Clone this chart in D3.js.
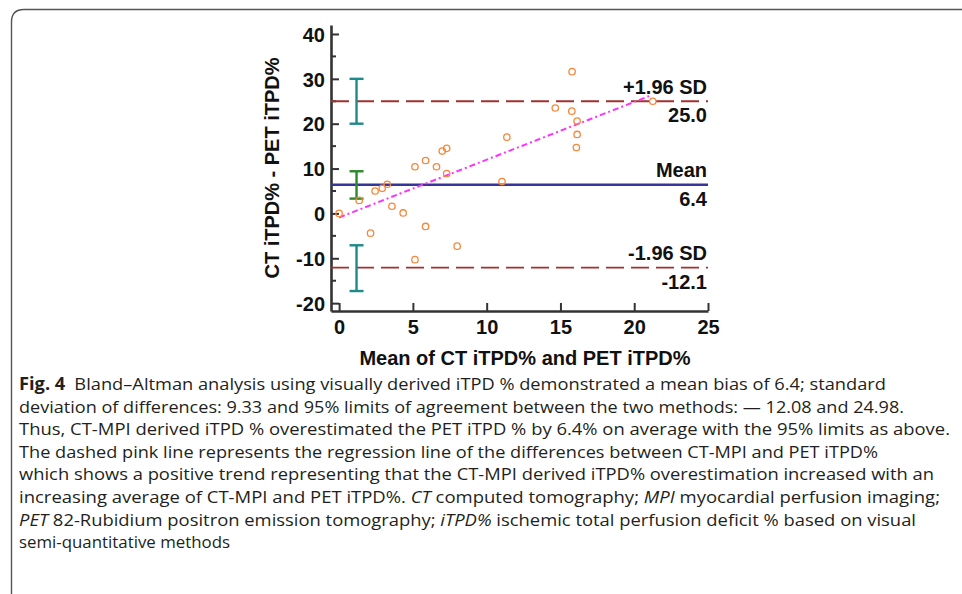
<!DOCTYPE html>
<html>
<head>
<meta charset="utf-8">
<script src="https://cdn.jsdelivr.net/npm/d3@7"></script>
<style>
  body { margin: 0; background: #fff; }
  svg { display: block; }
</style>
</head>
<body>
<svg class="chart"></svg>
<script>
const width = 962;
const height = 594;

// data
const meanVals = [0, 1.36, 2.13, 2.44, 2.92, 3.26, 3.58, 4.34, 5.14, 5.14, 5.86, 5.86, 6.6, 6.99, 7.29, 7.29, 8.0,
  11.04, 11.37, 14.65, 15.79, 15.77, 16.13, 16.13, 16.08, 21.26];
const diffVals = [0, 2.9, -4.4, 5.0, 5.6, 6.5, 1.6, 0.1, 10.4, -10.3, 11.8, -2.9, 10.4, 13.9, 14.5, 8.9, -7.3,
  7.1, 17.0, 23.5, 31.6, 22.8, 20.6, 17.6, 14.7, 25.0];
const limitVals = [25.0, 6.4, -12.1];
const limitNames = ['+1.96 SD', 'Mean', '-1.96 SD'];
const ciLow = [20.0, 3.3, -17.3];
const ciHigh = [30.0, 9.4, -7.1];
const regX = [0, 21.2];
const regY = [-0.9, 26.4];
const xTicks = [0, 5, 10, 15, 20, 25];
const yTicks = [-20, -10, 0, 10, 20, 30, 40];
const yMinorTicks = [-15, -5, 5, 15, 25, 35];

const svg = d3.select('.chart')
    .attr('width', width)
    .attr('height', height);

const boldFont = '"Liberation Sans", Arial, sans-serif';
const boldSize = 20;

// frame round the figure
svg.append('path')
    .attr('d', 'M11.5,594 L11.5,22 Q11.5,9.5 24,9.5 L962,9.5')
    .attr('fill', 'none')
    .attr('stroke', '#555')
    .attr('stroke-width', 1.4);

// scales
const x = d3.scaleLinear().domain([-0.55, 25]).range([331, 708]);
const y = d3.scaleLinear().domain([-21.75, 42]).range([311, 25]);

// axes
const xAxis = d3.axisBottom(x).tickValues(xTicks).tickSize(-8).tickPadding(9).tickSizeOuter(0)
    .tickFormat(d => String(d));
const gx = svg.append('g')
    .attr('transform', `translate(0,${y(-21.75)})`)
    .call(xAxis);

const yAxis = d3.axisLeft(y).tickValues(yTicks).tickSize(-8).tickPadding(6).tickSizeOuter(0)
    .tickFormat(d => String(d));
const gy = svg.append('g')
    .attr('transform', `translate(${x(-0.55)},0)`)
    .call(yAxis);

gy.selectAll('.minor')
    .data(yMinorTicks).enter()
    .append('line')
    .attr('class', 'minor')
    .attr('x1', 0).attr('x2', 5)
    .attr('y1', d => y(d)).attr('y2', d => y(d))
    .attr('stroke', '#333')
    .attr('stroke-width', 2);

[gx, gy].forEach(g => {
    g.select('.domain').attr('stroke', '#333').attr('stroke-width', 2.6);
    g.selectAll('.tick line').attr('stroke', '#333').attr('stroke-width', 2);
    g.selectAll('.tick text')
        .attr('font-family', boldFont)
        .attr('font-weight', 'bold')
        .attr('font-size', boldSize)
        .attr('fill', '#111');
});
gy.selectAll('.tick text').attr('dy', '0.36em');

// axis titles
svg.append('text')
    .attr('x', 525)
    .attr('y', 365)
    .attr('text-anchor', 'middle')
    .attr('font-family', boldFont)
    .attr('font-weight', 'bold')
    .attr('font-size', boldSize)
    .attr('fill', '#111')
    .text('Mean of CT iTPD% and PET iTPD%');

svg.append('text')
    .attr('transform', 'translate(279,168) rotate(-90)')
    .attr('text-anchor', 'middle')
    .attr('font-family', boldFont)
    .attr('font-weight', 'bold')
    .attr('font-size', boldSize)
    .attr('fill', '#111')
    .text('CT iTPD% - PET iTPD%');

// limit lines
const limitColors = ['#a33030', '#35359a', '#a33030'];
limitVals.forEach((v, i) => {
    svg.append('line')
        .attr('x1', x(-0.55)).attr('x2', x(25))
        .attr('y1', y(v)).attr('y2', y(v))
        .attr('stroke', limitColors[i])
        .attr('stroke-width', i === 1 ? 2.6 : 1.8)
        .attr('stroke-dasharray', i === 1 ? null : '18,7');

    svg.append('text')
        .attr('x', 707)
        .attr('y', y(v) - 7.5)
        .attr('text-anchor', 'end')
        .attr('font-family', boldFont)
        .attr('font-weight', 'bold')
        .attr('font-size', boldSize)
        .attr('fill', '#111')
        .text(limitNames[i]);

    svg.append('text')
        .attr('x', 707)
        .attr('y', y(v) + 21)
        .attr('text-anchor', 'end')
        .attr('font-family', boldFont)
        .attr('font-weight', 'bold')
        .attr('font-size', boldSize)
        .attr('fill', '#111')
        .text(v.toFixed(1));
});

// confidence interval bars
const ciColors = ['#1f8a8a', '#2a8a2a', '#1f8a8a'];
const ciX = x(1.18);
ciLow.forEach((lo, i) => {
    const g = svg.append('g')
        .attr('stroke', ciColors[i])
        .attr('stroke-width', 2.4);
    g.append('line').attr('x1', ciX).attr('x2', ciX).attr('y1', y(lo)).attr('y2', y(ciHigh[i]));
    g.append('line').attr('x1', ciX - 7).attr('x2', ciX + 7).attr('y1', y(lo)).attr('y2', y(lo));
    g.append('line').attr('x1', ciX - 7).attr('x2', ciX + 7).attr('y1', y(ciHigh[i])).attr('y2', y(ciHigh[i]));
});

// regression line
svg.append('line')
    .attr('x1', x(regX[0])).attr('y1', y(regY[0]))
    .attr('x2', x(regX[1])).attr('y2', y(regY[1]))
    .attr('stroke', '#ff33ff')
    .attr('stroke-width', 2)
    .attr('stroke-dasharray', '6,3,2,3');

// points
svg.selectAll('circle.dot')
    .data(meanVals).enter()
    .append('circle')
    .attr('class', 'dot')
    .attr('cx', d => x(d))
    .attr('cy', (d, i) => y(diffVals[i]))
    .attr('r', 3.2)
    .attr('fill', 'none')
    .attr('stroke', '#f7873a')
    .attr('stroke-width', 1.3);

// caption
const caption = [
    [['b', 'Fig. 4'], ['n', '\u2002Bland\u2013Altman analysis using visually derived iTPD % demonstrated a mean bias of 6.4; standard']],
    [['n', 'deviation of differences: 9.33 and 95% limits of agreement between the two methods: \u2014 12.08 and 24.98.']],
    [['n', 'Thus, CT-MPI derived iTPD % overestimated the PET iTPD % by 6.4% on average with the 95% limits as above.']],
    [['n', 'The dashed pink line represents the regression line of the differences between CT-MPI and PET iTPD%']],
    [['n', 'which shows a positive trend representing that the CT-MPI derived iTPD% overestimation increased with an']],
    [['n', 'increasing average of CT-MPI and PET iTPD%. '], ['i', 'CT'], ['n', ' computed tomography; '], ['i', 'MPI'], ['n', ' myocardial perfusion imaging;']],
    [['i', 'PET'], ['n', ' 82-Rubidium positron emission tomography; '], ['i', 'iTPD%'], ['n', ' ischemic total perfusion deficit % based on visual']],
    [['n', 'semi-quantitative methods']]
];
const captionEnds = [886, 904, 950, 878, 934, 940, 916, 230];
const captionX = 19;

caption.forEach((parts, i) => {
    const t = svg.append('text')
        .attr('x', captionX)
        .attr('y', 390 + i * 22.6)
        .attr('font-family', '"Open Sans", "Noto Sans", sans-serif')
        .attr('font-size', 17)
        .attr('fill', '#231f20')
        .attr('textLength', captionEnds[i] - captionX)
        .attr('lengthAdjust', 'spacingAndGlyphs')
        .style('white-space', 'pre');
    parts.forEach(p => {
        t.append('tspan')
            .attr('font-weight', p[0] === 'b' ? 'bold' : null)
            .attr('font-style', p[0] === 'i' ? 'italic' : null)
            .text(p[1]);
    });
});
</script>
</body>
</html>
